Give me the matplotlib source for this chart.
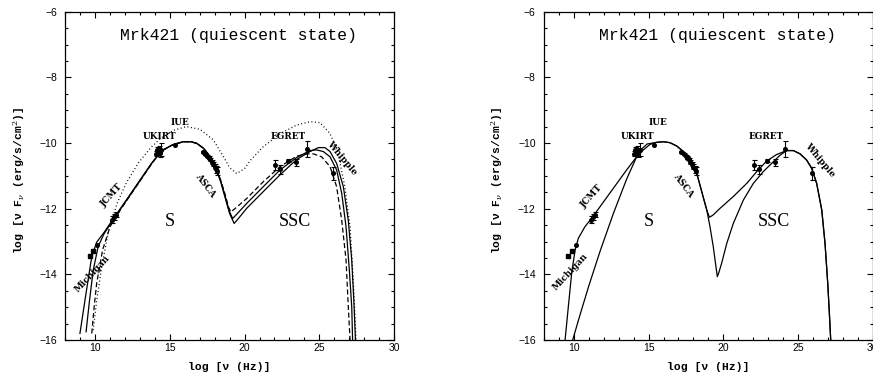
import matplotlib
matplotlib.use("Agg")
import matplotlib.pyplot as plt
from matplotlib.ticker import MultipleLocator

# ---------------- data ----------------
# Left panel model curves
L_s1_x = [8.98, 9.38, 9.77, 10.1, 10.6, 11.3, 12.2, 13.1, 13.8, 14.2, 14.6, 15.2, 15.9, 16.4, 16.8,
          17.25, 17.7, 18.05, 18.4, 18.7, 19.0, 19.3, 19.55, 20.14, 21.25, 22.37, 23.49, 24.38, 24.94,
          25.38, 25.72, 26.16, 26.61, 26.94, 27.17, 27.32, 27.42]
L_s1_y = [-15.8, -14.6, -13.46, -13.02, -12.72, -12.25, -11.66, -11.06, -10.6, -10.38, -10.2, -10.05,
          -9.96, -9.96, -10.01, -10.16, -10.42, -10.74, -11.18, -11.67, -12.15, -12.45, -12.32, -11.99,
          -11.48, -10.97, -10.5, -10.26, -10.14, -10.14, -10.26, -10.62, -11.33, -12.35, -13.56, -14.88, -16.0]

L_s2_x = [9.39, 9.62, 9.87, 10.2, 10.6, 11.3, 12.2, 13.1, 13.8, 14.2, 14.6, 15.2, 15.9, 16.4, 16.8,
          17.25, 17.7, 18.05, 18.4, 18.7, 18.98, 19.2, 19.45, 20.14, 21.25, 22.37, 23.49, 24.38, 24.82,
          25.27, 25.72, 26.16, 26.5, 26.79, 27.01, 27.17, 27.23]
L_s2_y = [-15.75, -14.8, -13.87, -13.15, -12.76, -12.27, -11.68, -11.08, -10.61, -10.38, -10.2, -10.05,
          -9.96, -9.96, -10.01, -10.16, -10.42, -10.73, -11.15, -11.62, -12.08, -12.3, -12.18, -11.84,
          -11.33, -10.82, -10.44, -10.23, -10.21, -10.26, -10.42, -10.82, -11.53, -12.55, -13.87, -14.98, -16.0]

L_d_x = [9.77, 9.93, 10.1, 10.5, 11.0, 11.3, 12.2, 13.1, 13.8, 14.2, 14.6, 15.2, 15.9, 16.4, 16.8,
         17.25, 17.7, 18.05, 18.4, 18.7, 18.92, 19.08, 19.35, 20.14, 21.25, 22.37, 23.49, 24.16, 24.6,
         25.16, 25.72, 26.16, 26.5, 26.79, 26.94, 27.06]
L_d_y = [-15.8, -15.0, -14.27, -13.25, -12.55, -12.3, -11.69, -11.09, -10.62, -10.38, -10.2, -10.05,
         -9.96, -9.96, -10.01, -10.16, -10.42, -10.72, -11.13, -11.57, -11.95, -12.1, -12.0, -11.69,
         -11.18, -10.72, -10.4, -10.33, -10.33, -10.42, -10.72, -11.33, -12.35, -13.56, -14.98, -16.0]

L_dot_x = [9.87, 10.1, 10.44, 10.9, 11.5, 12.1, 12.9, 13.7, 14.4, 15.2, 16.1, 17.0, 17.9, 18.5, 19.0,
           19.47, 20.0, 20.4, 21.25, 22.4, 23.5, 24.4, 25.05, 25.7, 26.2, 26.7, 27.06, 27.3, 27.46]
L_dot_y = [-15.7, -14.8, -13.77, -12.65, -11.8, -11.2, -10.6, -10.15, -9.85, -9.62, -9.5, -9.58, -9.9,
           -10.35, -10.75, -10.93, -10.78, -10.52, -10.11, -9.71, -9.45, -9.35, -9.38, -9.7, -10.2,
           -11.3, -12.55, -14.4, -16.0]

# Right panel model curves
R_a_x = [9.41, 9.63, 9.85, 10.08, 10.3, 10.74, 11.19, 11.75, 12.64, 13.53, 14.2, 14.65, 15.1, 15.54,
         15.99, 16.43, 16.88, 17.33, 17.77, 18.22, 18.45, 18.7, 18.9, 19.07, 19.3, 19.78, 20.67, 21.57,
         22.24, 22.9, 23.57, 24.24, 24.69, 25.14, 25.58, 25.92, 26.25, 26.59, 26.81, 26.99, 27.1, 27.19]
R_a_y = [-16.0, -14.98, -13.97, -13.26, -12.9, -12.55, -12.29, -11.94, -11.38, -10.82, -10.42, -10.21,
         -10.04, -9.98, -9.96, -9.99, -10.09, -10.26, -10.52, -10.92, -11.3, -11.72, -12.05, -12.26,
         -12.2, -11.99, -11.63, -11.23, -10.87, -10.55, -10.35, -10.23, -10.23, -10.33, -10.52, -10.77,
         -11.23, -12.04, -13.06, -14.27, -15.19, -16.0]

R_b_x = [9.92, 10.4, 11.0, 11.75, 12.64, 13.53, 14.2, 14.54, 14.9, 15.54, 15.99, 16.43, 16.88, 17.33,
         17.77, 18.22, 18.45, 18.7, 18.9, 19.11, 19.33, 19.51, 19.6, 19.7, 19.89, 20.23, 20.67, 21.34,
         22.01, 22.68, 23.35, 23.8, 24.24, 24.69, 25.14, 25.58, 25.92, 26.25, 26.59, 26.81, 26.99, 27.1, 27.19]
R_b_y = [-16.0, -15.25, -14.35, -13.3, -12.15, -11.1, -10.42, -10.18, -10.03, -9.98, -9.96, -9.99,
         -10.09, -10.26, -10.52, -10.92, -11.3, -11.72, -12.05, -12.55, -13.16, -13.77, -14.07, -13.95,
         -13.66, -13.06, -12.45, -11.74, -11.23, -10.87, -10.57, -10.37, -10.23, -10.23, -10.33, -10.52,
         -10.77, -11.23, -12.04, -13.06, -14.27, -15.19, -16.0]

# Observations (same in both panels)
mich_x = [9.62, 9.88]
mich_y = [-13.43, -13.3]
mich2_x = [10.15]
mich2_y = [-13.1]
jcmt_x = [11.15, 11.28, 11.4]
jcmt_y = [-12.33, -12.25, -12.18]
jcmt_e = [0.1, 0.08, 0.08]
ukirt_x = [14.05, 14.12, 14.18, 14.25, 14.32, 14.4]
ukirt_y = [-10.33, -10.22, -10.28, -10.18, -10.3, -10.2]
ukirt_e = [0.08, 0.1, 0.1, 0.08, 0.12, 0.2]
iue_x = [15.35]
iue_y = [-10.05]
asca_x = [17.2, 17.35, 17.5, 17.6, 17.7, 17.8, 17.9, 18.0, 18.1, 18.17]
asca_y = [-10.27, -10.33, -10.4, -10.45, -10.5, -10.58, -10.65, -10.72, -10.8, -10.86]
asca_e = [0.04, 0.04, 0.04, 0.04, 0.05, 0.05, 0.06, 0.07, 0.1, 0.12]
egret_x = [22.05, 22.4, 22.9, 23.45, 24.15]
egret_y = [-10.67, -10.8, -10.54, -10.59, -10.18]
egret_e = [0.16, 0.13, 0.05, 0.1, 0.24]
whip_x = [25.92]
whip_y = [-10.92]
whip_e = [0.2]

title_text = "Mrk421 (quiescent state)"
xticks = [10, 15, 20, 25, 30]
yticks = [-16, -14, -12, -10, -8, -6]

# ---------------- figure ----------------
plt.rcParams['mathtext.fontset'] = 'dejavuserif'
fig = plt.figure(figsize=(8.73, 3.76), dpi=100)
ax1 = fig.add_axes([65.3 / 873, 1 - 340 / 376, 328.7 / 873, 328.3 / 376])
ax2 = fig.add_axes([544 / 873, 1 - 340 / 376, 328.7 / 873, 328.3 / 376])

LW = 0.9
mono = 'Liberation Mono'
lblfont = dict(family='DejaVu Serif', weight='bold', fontsize=6.4)


def setup(ax):
    ax.set_xlim(8, 30)
    ax.set_ylim(-16, -6)
    ax.set_xticks(xticks)
    ax.set_yticks(yticks)
    ax.xaxis.set_minor_locator(MultipleLocator(1))
    ax.yaxis.set_minor_locator(MultipleLocator(0.5))
    ax.tick_params(which='both', direction='in', top=True, right=True, width=0.8)
    ax.tick_params(which='major', length=4.5)
    ax.tick_params(which='minor', length=2.2)
    ax.tick_params(axis='x', pad=2)
    ax.tick_params(axis='y', pad=6)
    for lab in ax.get_xticklabels() + ax.get_yticklabels():
        lab.set_fontfamily('Liberation Sans')
        lab.set_fontsize(7.5)
    for sp in ax.spines.values():
        sp.set_linewidth(0.9)
    ax.set_xlabel("log [ν (Hz)]", family=mono, fontsize=8.2, fontweight='bold')
    ax.xaxis.set_label_coords(0.5, -0.068)
    ax.set_ylabel("log [ν F$_{\\nu}$ (erg/s/cm$^{2}$)]", family=mono, fontsize=8.2, fontweight='bold')
    ax.yaxis.set_label_coords(-0.118, 0.487)
    ax.text(19.6, -6.86, title_text, family=mono, fontsize=11.8, ha='center', va='baseline')
    ax.text(15.0, -12.4, "S", family='Liberation Serif', fontsize=13, ha='center', va='center')
    ax.text(23.37, -12.4, "SSC", family='Liberation Serif', fontsize=13, ha='center', va='center')


def data(ax):
    ms = 2.6
    ax.plot(mich_x, mich_y, 's', color='k', ms=ms)
    ax.plot(mich2_x, mich2_y, 'o', color='k', ms=ms)
    kw = dict(fmt='o', color='k', ms=ms, elinewidth=0.8, capsize=1.8, capthick=0.8)
    ax.errorbar(jcmt_x, jcmt_y, yerr=jcmt_e, **kw)
    ax.errorbar(ukirt_x, ukirt_y, yerr=ukirt_e, **kw)
    ax.plot(iue_x, iue_y, 'o', color='k', ms=ms)
    ax.errorbar(asca_x, asca_y, yerr=asca_e, **kw)
    ax.errorbar(egret_x, egret_y, yerr=egret_e, **kw)
    ax.errorbar(whip_x, whip_y, yerr=whip_e, **kw)


def labels(ax, pos):
    for name, (x, y, rot) in pos.items():
        ax.text(x, y, name, rotation=rot, ha='center', va='center', rotation_mode='anchor', **lblfont)


setup(ax1)
ax1.plot(L_s1_x, L_s1_y, '-', color='k', lw=LW)
ax1.plot(L_s2_x, L_s2_y, '-', color='k', lw=LW)
ax1.plot(L_d_x, L_d_y, color='k', lw=LW, dashes=(4, 2.2))
ax1.plot(L_dot_x, L_dot_y, color='k', lw=0.9, dashes=(0.8, 2.0))
data(ax1)
labels(ax1, {"Michigan": (9.81, -13.97, 47), "JCMT": (11.1, -11.61, 48),
             "ASCA": (17.35, -11.28, -53), "Whipple": (26.5, -10.47, -50),
             "IUE": (15.68, -9.38, 0), "UKIRT": (14.29, -9.81, 0), "EGRET": (22.93, -9.81, 0)})

setup(ax2)
ax2.plot(R_a_x, R_a_y, '-', color='k', lw=LW)
ax2.plot(R_b_x, R_b_y, '-', color='k', lw=LW)
data(ax2)
labels(ax2, {"Michigan": (9.74, -13.92, 47), "JCMT": (11.19, -11.63, 48),
             "ASCA": (17.33, -11.28, -53), "Whipple": (26.47, -10.52, -50),
             "IUE": (15.65, -9.38, 0), "UKIRT": (14.25, -9.81, 0), "EGRET": (22.9, -9.81, 0)})

fig.savefig("out.png", dpi=100)
